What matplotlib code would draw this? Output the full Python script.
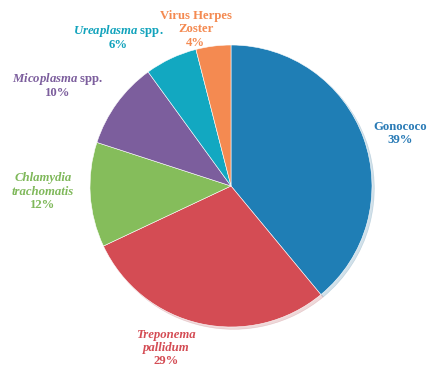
import matplotlib
matplotlib.use('Agg')
import matplotlib.pyplot as plt

# Share of each agent, in percent.
names = [['Gonococo'], ['Treponema', 'pallidum'], ['Chlamydia', 'trachomatis'],
         [r'$\mathit{Micoplasma}$ spp.'], [r'$\mathit{Ureaplasma}$ spp.'],
         ['Virus Herpes', 'Zoster']]
italic = [False, True, True, False, False, False]
values = [39, 29, 12, 10, 6, 4]
colors = ['#1f7eb5', '#d44c54', '#85bd5b', '#7c5e9d', '#12a8c1', '#f48a51']
text_colors = ['#2a7bb6', '#d44c54', '#7fb85a', '#7c5e9d', '#12a3bc', '#f48a51']
# label centres, in pie radius units
label_pos = [(1.20, 0.37), (-0.46, -1.15), (-1.335, -0.04), (-1.23, 0.71),
             (-0.80, 1.05), (-0.25, 1.11)]

plt.rcParams['font.family'] = 'Liberation Serif'
plt.rcParams['mathtext.fontset'] = 'custom'
plt.rcParams['mathtext.it'] = 'Liberation Serif:italic:bold'
plt.rcParams['mathtext.rm'] = 'Liberation Serif:bold'

fig = plt.figure(figsize=(4.36, 3.72), dpi=100)
ax = fig.add_axes([(231 - 141) / 436, (372 - 186 - 141) / 372, 282 / 436, 282 / 372])
ax.pie(values, colors=colors, startangle=90, counterclock=False,
       wedgeprops={'linewidth': 0.4, 'edgecolor': 'white'},
       shadow={'ox': 0.012, 'oy': -0.012, 'shade': 0.2, 'alpha': 0.2})
ax.set_xlim(-1, 1)
ax.set_ylim(-1, 1)
ax.set_aspect('auto')
ax.axis('off')

lh = 9.6  # line height in points
for lines, it, v, c, (x, y) in zip(names, italic, values, text_colors, label_pos):
    rows = [(l, it) for l in lines] + [('%d%%' % v, False)]
    n = len(rows)
    for i, (s, is_it) in enumerate(rows):
        ax.annotate(s, (x, y), xytext=(0, ((n - 1) / 2 - i) * lh),
                    textcoords='offset points', color=c, fontsize=9.2,
                    fontweight='bold', fontstyle='italic' if is_it else 'normal',
                    ha='center', va='center', annotation_clip=False)

fig.savefig('out.png', dpi=100)
